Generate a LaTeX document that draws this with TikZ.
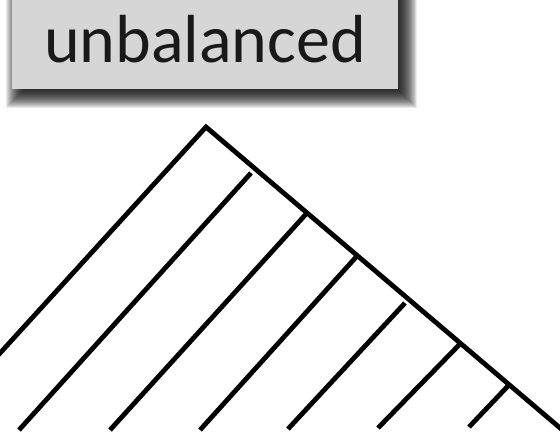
\documentclass[tikz,border=0pt]{standalone}
\usepackage{fontspec}
\setmainfont{Carlito}
\usetikzlibrary{calc, backgrounds}
\definecolor{boxgray}{RGB}{214,214,214}

\begin{document}
\begin{tikzpicture}[
    x=1pt, y=-1pt,
    branch/.style={line width=4.8pt, line cap=butt, line join=miter},
    title_box/.style={fill=boxgray, minimum width=386.6pt, minimum height=100pt, inner sep=0pt, font=\fontsize{68}{80}\selectfont, text=black!90}
]
\useasboundingbox (0,0) rectangle (560,434);
\clip (0,0) rectangle (560,434);

% ================= Title =================

\node[title_box] (title) at (205,39.3) {unbalanced};

% soft shadow under the title box
\begin{scope}[on background layer]
\foreach \r in {-6,...,12}
    \fill[black, opacity=0.085] ($(title.north west)+(6-\r,0)$) rectangle ($(title.south east)+(6+\r,6+\r)$);
\end{scope}

% ================= Tree =================

% points on the spine
\coordinate (root) at (206,127);
\coordinate (a2) at (251,173);
\coordinate (a3) at (307,213);
\coordinate (a4) at (357,256);
\coordinate (a5) at (405,303);
\coordinate (a6) at (460,344);
\coordinate (a7) at (508,386);

% tips
\coordinate (t1) at (-70,430);
\coordinate (t2) at (19,430);
\coordinate (t3) at (110,430);
\coordinate (t4) at (200,430);
\coordinate (t5) at (288,429);
\coordinate (t6) at (378,428);
\coordinate (t7) at (469,427);
\coordinate (t8) at (566,433);

% spine and first leaf
\draw[branch] (t1) -- (root) -- (t8);

% other leaves
\foreach \a/\t in {a2/t2, a3/t3, a4/t4, a5/t5, a6/t6, a7/t7}
    \draw[branch] (\a) -- (\t);

\end{tikzpicture}
\end{document}
